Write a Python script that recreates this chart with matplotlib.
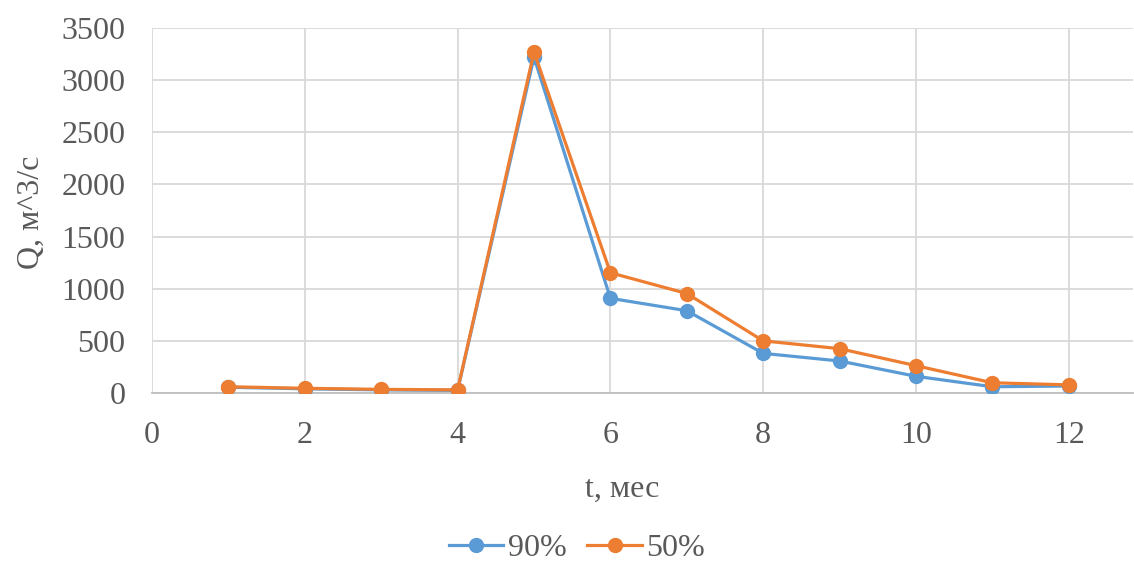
import matplotlib
matplotlib.use("Agg")
import matplotlib.pyplot as plt

months = [1, 2, 3, 4, 5, 6, 7, 8, 9, 10, 11, 12]
q90 = [55, 40, 30, 25, 3220, 908, 789, 380, 307, 160, 60, 67]
q50 = [60, 45, 35, 30, 3270, 1153, 954, 500, 425, 262, 98, 78]
series_labels = ["90%", "50%"]
x_ticks = [0, 2, 4, 6, 8, 10, 12]
y_ticks = [0, 500, 1000, 1500, 2000, 2500, 3000, 3500]

plt.rcParams['font.family'] = ['Liberation Serif', 'DejaVu Serif']
txt = '#595959'
fs = 23

fig = plt.figure(figsize=(11.34, 5.62), dpi=100)
ax = fig.add_axes([152/1134, 1-393/562, (1133-152)/1134, (393-28)/562])

blue = '#5B9BD5'
orange = '#ED7D31'
ax.plot(months, q90, color=blue, lw=2.3, marker='o', ms=10, label=series_labels[0], zorder=3)
ax.plot(months, q50, color=orange, lw=2.3, marker='o', ms=10, label=series_labels[1], zorder=4)

ax.set_xlim(0, 12.84)
ax.set_ylim(0, 3500)
ax.set_xticks(x_ticks)
ax.set_yticks(y_ticks)
ax.grid(True, color='#D9D9D9', lw=1.3)
ax.set_axisbelow(True)
for s in ['top', 'right', 'left']:
    ax.spines[s].set_visible(False)
ax.spines['bottom'].set_color('#BFBFBF')
ax.spines['bottom'].set_linewidth(1.3)
ax.tick_params(axis='both', length=0, labelsize=fs, labelcolor=txt)
ax.tick_params(axis='y', pad=19)
ax.tick_params(axis='x', pad=20)

fig.text(31/1134, 1-212/562, 'Q, м^3/с', rotation=90, ha='center', va='center', fontsize=fs, color=txt)
fig.text(622/1134, 1-489/562, 't, мес', ha='center', va='center', fontsize=fs, color=txt)

leg = fig.legend(loc='center', bbox_to_anchor=(577/1134, 1-548/562), ncol=2, frameon=False,
                 fontsize=fs, handlelength=1.7, columnspacing=0.65, handletextpad=0.15,
                 borderpad=0.1)
for t in leg.get_texts():
    t.set_color(txt)

fig.savefig('out.png', dpi=100)
